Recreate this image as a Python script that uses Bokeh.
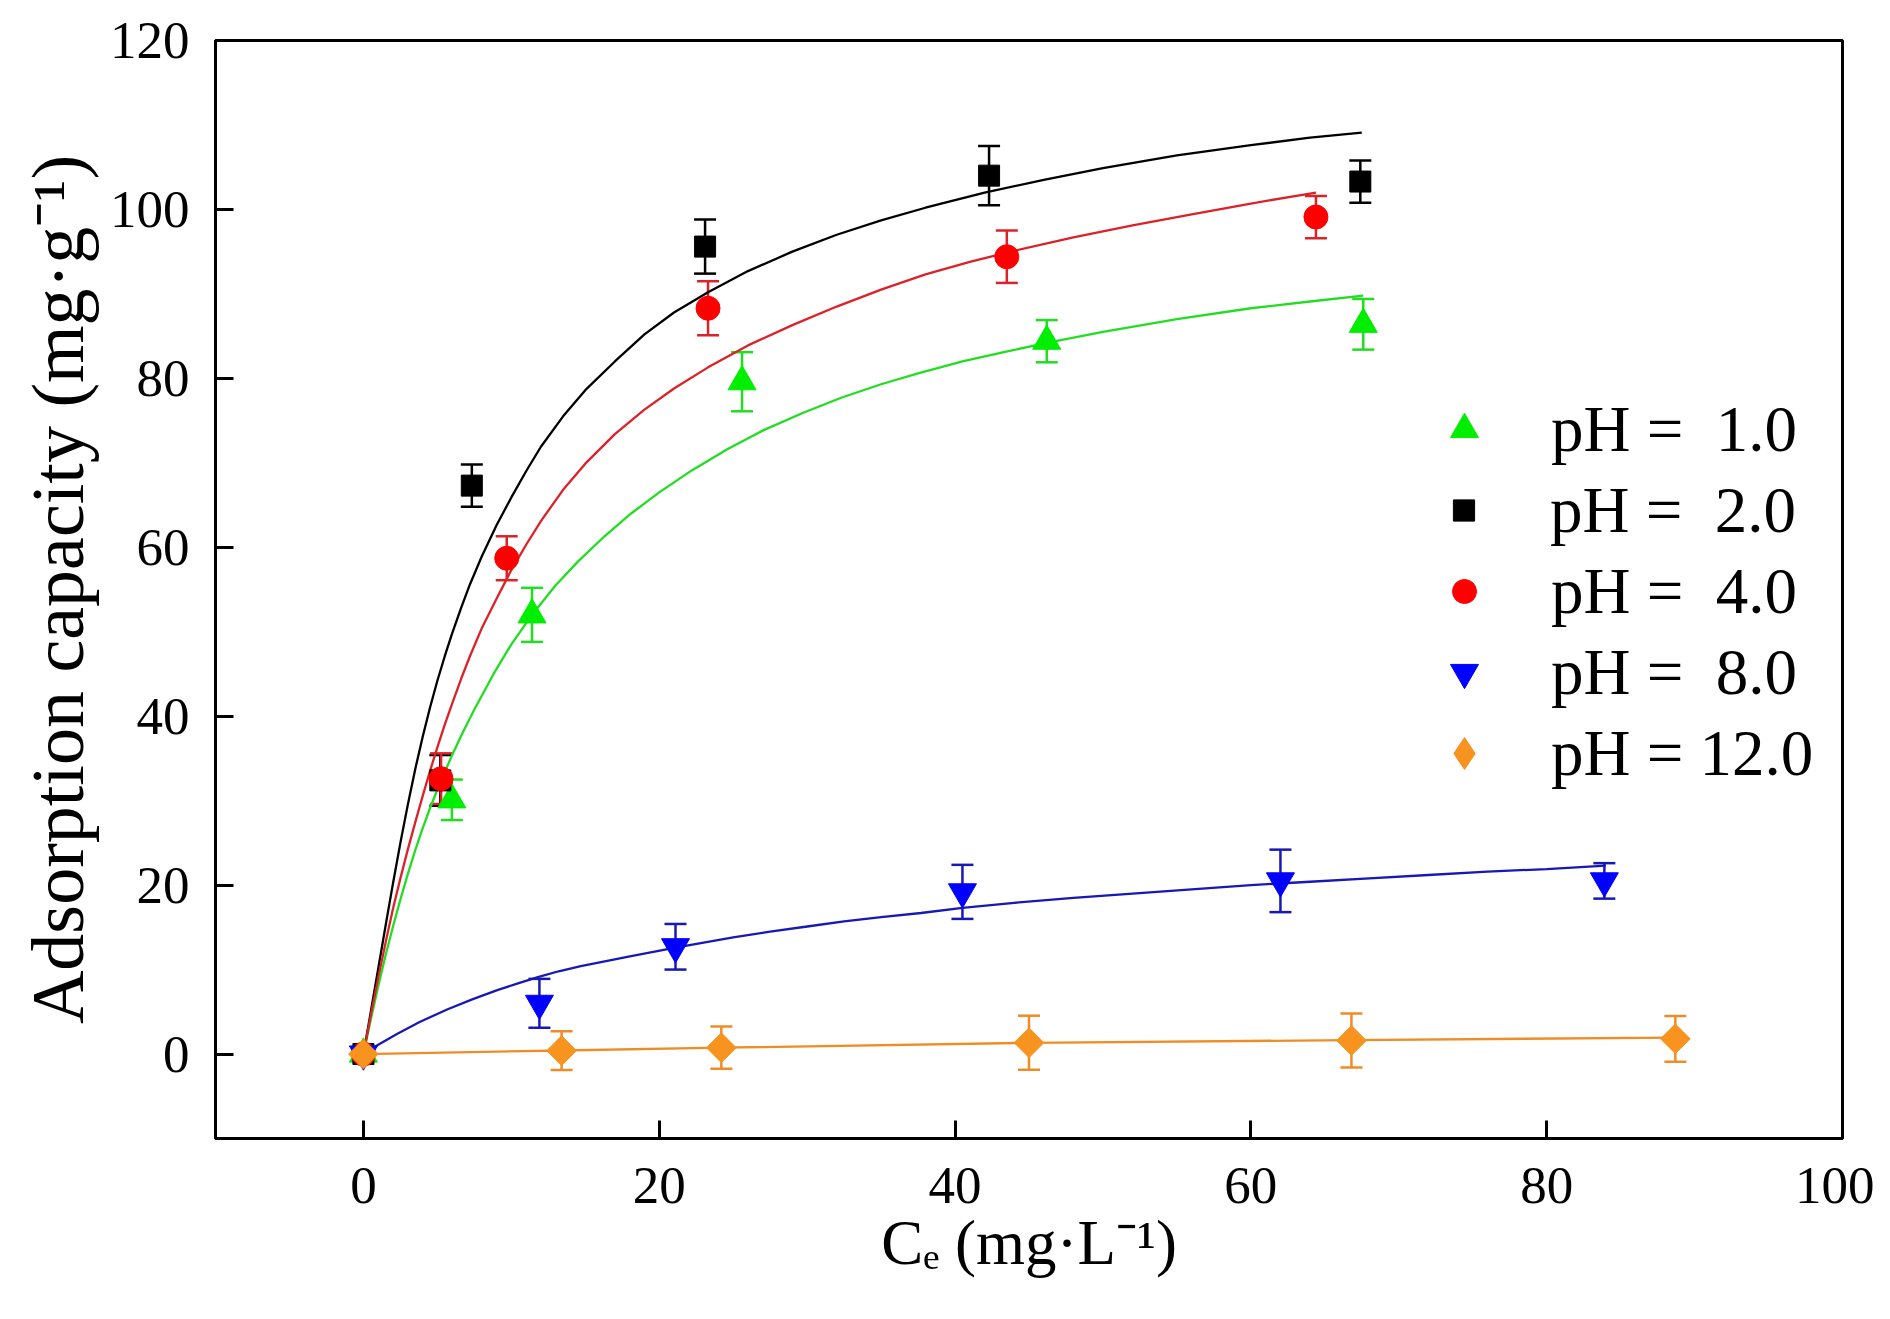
import numpy as np
from bokeh.plotting import figure
from bokeh.models import (ColumnDataSource, Whisker, TeeHead, Legend, LegendItem,
                          FixedTicker, Range1d)
from bokeh.embed import file_html
from bokeh.resources import INLINE

# ---------------- data ----------------
x_ticks = [0, 20, 40, 60, 80, 100]
y_ticks = [0, 20, 40, 60, 80, 100, 120]

x_title = "C\u2091 (mg\u00b7L\u207b\u00b9)"
y_title = "Adsorption capacity (mg\u00b7g\u207b\u00b9)"
labels = ["pH = \u00a01.0", "pH = \u00a02.0", "pH = \u00a04.0", "pH = \u00a08.0", "pH = 12.0"]

# measured points  (Ce, q, error)
ph1_x = [0, 5.98, 11.4, 25.6, 46.2, 67.6]
ph1_y = [0, 30.1, 52.0, 79.6, 84.4, 86.4]
ph1_err = [0, 2.4, 3.2, 3.5, 2.5, 3.0]

ph2_x = [0, 5.2, 7.33, 23.1, 42.3, 67.4]
ph2_y = [0, 32.4, 67.3, 95.6, 104.0, 103.3]
ph2_err = [0, 3.0, 2.5, 3.2, 3.5, 2.5]

ph4_x = [0, 5.25, 9.69, 23.3, 43.5, 64.4]
ph4_y = [0, 32.6, 58.7, 88.3, 94.4, 99.1]
ph4_err = [0, 3.0, 2.6, 3.2, 3.1, 2.5]

ph8_x = [0, 11.9, 21.1, 40.5, 62.0, 83.9]
ph8_y = [0, 6.0, 12.7, 19.2, 20.5, 20.5]
ph8_err = [0, 2.9, 2.7, 3.2, 3.7, 2.1]

ph12_x = [0, 13.4, 24.2, 45.0, 66.8, 88.7]
ph12_y = [0, 0.4, 0.75, 1.34, 1.6, 1.8]
ph12_err = [0, 2.3, 2.5, 3.2, 3.2, 2.7]

# fitted isotherm curves
fit1_x = [0, 0.5, 1.0, 1.5, 2.0, 2.5, 3.0, 3.5, 4.0, 4.5, 5.0, 5.5, 6.0, 6.7, 7.5, 8.8, 10.0,
          11.4, 13.0, 14.5, 16.3, 18.1, 20.0, 22.2, 24.6, 27.1, 29.7, 32.3, 35.0, 37.5, 40.5,
          43.3, 46.2, 50.0, 55.0, 60.0, 64.0, 67.6]
fit1_y = [0, 4.1, 8.0, 11.7, 15.1, 18.3, 21.3, 24.1, 26.7, 29.1, 31.3, 33.4, 35.4, 38.0, 40.8,
          45.0, 48.5, 52.0, 55.5, 58.3, 61.3, 64.0, 66.5, 69.1, 71.6, 73.9, 75.9, 77.7, 79.3,
          80.6, 82.0, 83.1, 84.2, 85.5, 87.0, 88.3, 89.1, 89.8]

fit2_x = [0, 0.5, 1.0, 1.5, 2.0, 2.5, 3.0, 3.5, 4.0, 4.5, 5.0, 5.5, 6.0, 6.6, 7.2, 8.0, 9.0,
          10.0, 11.0, 12.0, 13.5, 15.0, 17.0, 19.0, 21.0, 23.3, 26.0, 29.0, 32.0, 35.0, 38.0,
          42.0, 46.0, 50.0, 55.0, 60.0, 64.0, 67.5]
fit2_y = [0, 5.0, 10.1, 15.2, 20.2, 25.0, 29.5, 33.7, 37.5, 41.0, 44.2, 47.1, 49.8, 52.8, 55.6,
          58.9, 62.6, 65.9, 69.0, 71.9, 75.5, 78.6, 82.0, 85.2, 87.8, 90.2, 92.7, 95.0, 97.0,
          98.7, 100.2, 102.0, 103.5, 104.9, 106.4, 107.6, 108.5, 109.1]

fit4_x = [0, 0.5, 1.0, 1.5, 2.0, 2.5, 3.0, 3.5, 4.0, 4.5, 5.0, 5.5, 6.0, 6.6, 7.2, 8.0, 9.0,
          10.0, 11.0, 12.0, 13.5, 15.0, 17.0, 19.0, 21.0, 23.3, 26.0, 29.0, 32.0, 35.0, 38.0,
          41.0, 44.0, 48.0, 52.0, 56.0, 60.0, 64.4]
fit4_y = [0, 4.6, 9.0, 13.2, 17.2, 20.8, 24.2, 27.4, 30.5, 33.5, 36.3, 39.0, 41.5, 44.4, 47.1,
          50.4, 53.9, 57.3, 60.3, 63.1, 66.8, 69.9, 73.4, 76.3, 78.8, 81.3, 83.9, 86.3, 88.5,
          90.5, 92.3, 93.8, 95.1, 96.7, 98.1, 99.4, 100.7, 102.0]

fit8_x = [0, 1.0, 2.3, 3.8, 5.7, 7.4, 9.1, 10.5, 11.8, 13.2, 14.7, 16.4, 18.1, 19.6, 21.1, 23.0,
          25.0, 27.5, 30.0, 32.5, 35.0, 37.7, 40.5, 44.0, 48.0, 52.0, 56.0, 60.0, 64.0, 68.0,
          72.0, 76.0, 80.0, 84.0]
fit8_y = [0, 1.1, 2.4, 3.8, 5.3, 6.5, 7.6, 8.4, 9.1, 9.8, 10.4, 11.0, 11.6, 12.1, 12.6, 13.2,
          13.8, 14.5, 15.1, 15.7, 16.2, 16.7, 17.3, 17.9, 18.5, 19.0, 19.5, 20.0, 20.4, 20.8,
          21.2, 21.6, 21.9, 22.3]

fit12_x = [0, 13.4, 24.2, 45.0, 66.8, 88.7]
fit12_y = [0, 0.42, 0.75, 1.33, 1.65, 1.95]

# ---------------- styling ----------------
FONT = "Liberation Serif"
series = [
    # x, y, err, fx, fy, marker, size, angle, marker colour, line colour, legend marker, legend box
    (ph1_x, ph1_y, ph1_err, fit1_x, fit1_y, "triangle", 28, 0.0, "#00ee00", "#22dd22", None, 70),
    (ph2_x, ph2_y, ph2_err, fit2_x, fit2_y, "square", 21, 0.0, "#000000", "#000000", None, 53),
    (ph4_x, ph4_y, ph4_err, fit4_x, fit4_y, "circle", 24, 0.0, "#ff0000", "#dc2229", None, 60),
    (ph8_x, ph8_y, ph8_err, fit8_x, fit8_y, "inverted_triangle", 28, 0.0, "#0000ff", "#1818b4", None, 70),
    (ph12_x, ph12_y, ph12_err, fit12_x, fit12_y, "square", 21, np.pi / 4, "#f7931e", "#f08c26", "diamond", 80),
]

FRAME_W, FRAME_H = 1627, 1098
BL, BR, BT, BB = 215, 32, 40, 165

p = figure(frame_width=FRAME_W, frame_height=FRAME_H,
           min_border_left=BL, min_border_right=BR, min_border_top=BT, min_border_bottom=BB,
           x_range=Range1d(-10, 100), y_range=Range1d(-10, 120),
           output_backend="svg", toolbar_location=None, background_fill_color="white",
           border_fill_color="white")
p.grid.visible = False
p.outline_line_color = "black"
p.outline_line_width = 3

for ax in (p.xaxis, p.yaxis):
    ax.axis_line_width = 3
    ax.major_tick_line_width = 3
    ax.major_tick_in = 18
    ax.major_tick_out = 0
    ax.minor_tick_line_color = None
    ax.major_label_text_font = FONT
    ax.major_label_text_font_size = "53px"
    ax.major_label_text_color = "black"
    ax.axis_label_text_font = FONT
    ax.axis_label_text_font_style = "normal"
    ax.axis_label_text_color = "black"
p.xaxis.ticker = FixedTicker(ticks=x_ticks)
p.yaxis.ticker = FixedTicker(ticks=y_ticks)
p.xaxis.major_label_standoff = 29
p.yaxis.major_label_standoff = 26
p.xaxis.axis_label = x_title
p.yaxis.axis_label = y_title
p.xaxis.axis_label_text_font_size = "63px"
p.yaxis.axis_label_text_font_size = "74px"
p.xaxis.axis_label_standoff = 2
p.yaxis.axis_label_standoff = 8

scatter_renderers = []
for s in series:
    x, y, err, fx, fy, marker, size, ang, mc, lc, lm, gw = s
    keep = [i for i in range(len(x)) if err[i] > 0]
    esrc = ColumnDataSource(dict(
        x=[x[i] for i in keep],
        upper=[y[i] + err[i] for i in keep],
        lower=[y[i] - err[i] for i in keep]))
    wh = Whisker(source=esrc, base="x", upper="upper", lower="lower", dimension="height",
                 line_color=lc, line_width=2.5, level="underlay")
    wh.upper_head = TeeHead(size=22, line_color=lc, line_width=2.5)
    wh.lower_head = TeeHead(size=22, line_color=lc, line_width=2.5)
    p.add_layout(wh)
    p.line(fx, fy, line_color=lc, line_width=2.3)

for s in series:
    x, y, err, fx, fy, marker, size, ang, mc, lc, lm, gw = s
    r = p.scatter(x, y, marker=marker, size=size, angle=ang, fill_color=mc, line_color=mc,
                  line_width=1)
    if lm is not None:
        # legend-key-only renderer (NaN position, never drawn in the plot) -> diamond key
        r = p.scatter(x=[float("nan")], y=[float("nan")], marker=lm, fill_color=mc,
                      line_color=mc, line_width=1)
    scatter_renderers.append(r)

# legend: one small legend per row so each marker keeps its own size
frame_left_ref = 215
marker_cx = 1464
row_c = [429, 510, 591, 672, 753]
for i, (s, r, lab) in enumerate(zip(series, scatter_renderers, labels)):
    gw = s[11]
    lg = Legend(items=[LegendItem(label=lab, renderers=[r])],
                location=(int(round(marker_cx - gw / 2 - frame_left_ref)), 1098 - row_c[i]),
                glyph_width=gw, glyph_height=80, label_standoff=int(round(87 - gw / 2)),
                label_text_font=FONT, label_text_font_size="65px", label_text_color="black",
                padding=0, margin=0, spacing=0, border_line_alpha=0,
                background_fill_alpha=0)
    p.add_layout(lg, "center")

open("out.html", "w").write(file_html(p, INLINE))
